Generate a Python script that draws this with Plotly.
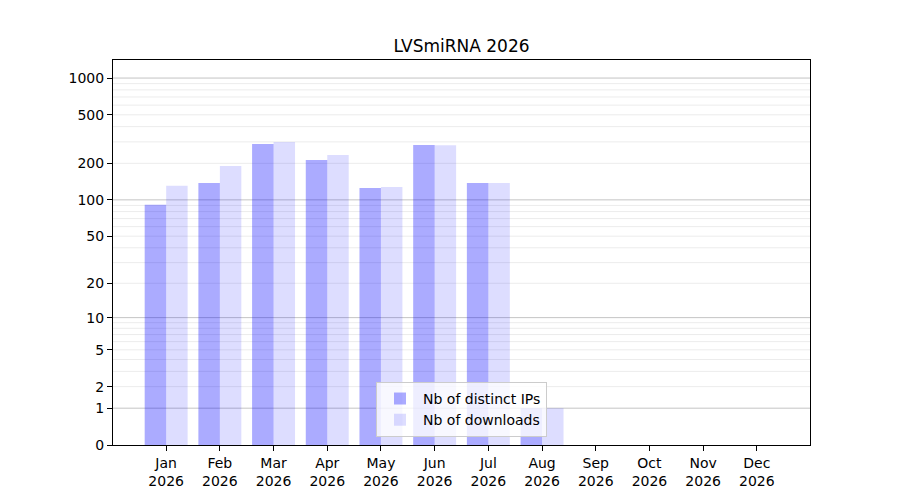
"""
LVSmiRNA 2026 monthly usage: distinct IPs vs downloads on a log(1+x) axis.
"""

import numpy as np
import plotly.graph_objects as go

MONTHS = ["Jan", "Feb", "Mar", "Apr", "May", "Jun",
          "Jul", "Aug", "Sep", "Oct", "Nov", "Dec"]
YEAR = 2026
DISTINCT_IPS = [91, 138, 288, 213, 125, 283, 138, 1, 0, 0, 0, 0]
DOWNLOADS = [131, 190, 299, 234, 128, 282, 138, 1, 0, 0, 0, 0]
Y_TICKS = [0, 1, 2, 5, 10, 20, 50, 100, 200, 500, 1000]
MAJOR_GRID = [1, 10, 100, 1000]
MINOR_GRID = [m * 10 ** k for k in range(3) for m in range(2, 10)]

FONT = "DejaVu Sans"


def tr(v):
    # log(1 + x) transform, same as the original axis
    return np.log10(1 + np.asarray(v, dtype=float))


x = np.arange(len(MONTHS))
tick_text = [f"{m}<br>{YEAR}" for m in MONTHS]

fig = go.Figure()
fig.add_trace(go.Bar(
    x=x, y=tr(DISTINCT_IPS), name="Nb of distinct IPs",
    marker_color="rgba(0,0,255,0.33)", marker_line_width=0,
    customdata=DISTINCT_IPS, hovertemplate="%{customdata}<extra></extra>",
))
fig.add_trace(go.Bar(
    x=x, y=tr(DOWNLOADS), name="Nb of downloads",
    marker_color="rgba(0,0,255,0.133)", marker_line_width=0,
    customdata=DOWNLOADS, hovertemplate="%{customdata}<extra></extra>",
))

shapes = []
for v in MINOR_GRID:
    shapes.append(dict(type="line", xref="paper", x0=0, x1=1, yref="y",
                       y0=float(tr(v)), y1=float(tr(v)), layer="below",
                       line=dict(color="#ececec", width=1)))
for v in MAJOR_GRID:
    shapes.append(dict(type="line", xref="paper", x0=0, x1=1, yref="y",
                       y0=float(tr(v)), y1=float(tr(v)), layer="below",
                       line=dict(color="#c4c4c4", width=1)))

# page body adds an 8px offset, so margins are shifted to compensate
fig.update_layout(
    width=900, height=500,
    margin=dict(l=105, r=98, t=52, b=63),
    plot_bgcolor="white", paper_bgcolor="white",
    font=dict(family=FONT, size=14, color="black"),
    title=dict(text=f"LVSmiRNA {YEAR}", x=(105 + 697 / 2) / 900, xanchor="center",
               y=1 - 38 / 500, yanchor="middle", font=dict(size=17)),
    barmode="group", bargap=0.2, bargroupgap=0,
    showlegend=True,
    legend=dict(x=0.5, xanchor="center", y=0.021, yanchor="bottom",
                bgcolor="rgba(255,255,255,0.8)", bordercolor="#cccccc",
                borderwidth=1, font=dict(size=14), itemwidth=36,
                tracegroupgap=0),
    shapes=shapes,
)
fig.update_xaxes(
    range=[-0.99, 11.99], tickvals=x, ticktext=tick_text,
    ticks="outside", ticklen=5, tickcolor="black",
    showline=True, linecolor="black", linewidth=1, mirror=True,
    showgrid=False, zeroline=False,
)
fig.update_yaxes(
    range=[0, 3.148], tickvals=tr(Y_TICKS), ticktext=[str(t) for t in Y_TICKS],
    ticks="outside", ticklen=5, tickcolor="black",
    showline=True, linecolor="black", linewidth=1, mirror=True,
    showgrid=False, zeroline=False,
)

fig.write_html("out.html")
